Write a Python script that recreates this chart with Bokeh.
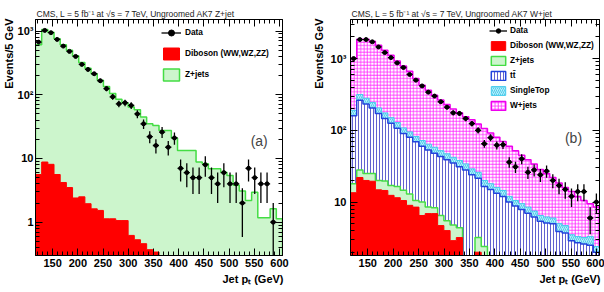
import math
from bokeh.plotting import figure
from bokeh.models import Range1d, FixedTicker, LinearAxis, LogAxis, Label, Legend, LegendItem, Title
from bokeh.layouts import row
from bokeh.embed import file_html
from bokeh.resources import INLINE

FONT = "Liberation Sans"

# ---------------- binning / ticks ----------------
bin_start = 116.0
bin_width = 12.25
n_bins = 40
x_ticks = [150, 200, 250, 300, 350, 400, 450, 500, 550, 600]
x_label = "Jet p\u209c (GeV)"
y_label = "Events/5 GeV"

# ---------------- panel (a): Z+jet ----------------
a_title = "CMS, L = 5 fb\u207b\u00b9 at \u221as = 7 TeV, Ungroomed AK7 Z+jet"
a_data = [671, 1025, 944, 740, 581, 480, 400, 300, 250, 214,
          166, 125, 93, 72, 75, 68, 50, 35, 22, 16,
          26, 15, 21, 7, 6, 5, 5, 8, 5, 4,
          6, 4, 4, 2, 7, 5, 4, 4, 1, 0]
a_diboson = [5.6, 8.8, 8.1, 5.6, 4.2, 3.5, 2.4, 2.5, 1.95, 1.62,
             1.53, 1.13, 1.13, 1.06, 1.06, 0.62, 0.53, 0.46, 0.37, 0.34,
             0, 0, 0, 0, 0, 0, 0, 0, 0, 0,
             0, 0, 0, 0, 0, 0, 0, 0, 0, 0]
a_zjets = [604, 1051, 952, 754, 606, 496, 408, 318, 258, 213,
           168, 134, 104, 84, 74, 63.4, 57.5, 44.5, 34.6, 32.7,
           27.5, 27.5, 21, 13.4, 13.4, 13.4, 8.8, 8.3, 6.9, 6.9,
           6.1, 5.4, 3.8, 3.1, 2.2, 2.96, 1.17, 1.17, 1.62, 1.13]
a_yticks = [1, 10, 100, 1000]
a_ylabels = {1: "1", 10: "10", 100: "10\u00b2", 1000: "10\u00b3"}

# ---------------- panel (b): W+jet ----------------
b_title = "CMS, L = 5 fb\u207b\u00b9 at \u221as = 7 TeV, Ungroomed AK7 W+jet"
b_data = [1000, 1840, 1840, 1710, 1450, 1210, 1030, 870, 750, 600,
          500, 415, 340, 300, 250, 210, 175, 172, 146, 124,
          100, 65, 79, 62, 63, 36, 31, 40, 26, 28,
          24, 27, 20, 17, 15, 12, 14, 14, 6, 10]
b_diboson = [13.5, 22, 20, 19.5, 14.8, 14.5, 12.4, 11.5, 10.5, 9,
             8.5, 6.5, 6.9, 6.9, 4.7, 4.0, 2.9, 3.2, 0, 0,
             2.0, 0, 0, 0, 0, 0, 0, 0, 0, 0,
             0, 0, 0, 0, 0, 0, 0, 0, 0, 0]
b_zjets = [4.5, 6, 5, 5.5, 5.2, 5.1, 4.6, 5, 4.1, 4,
           2, 3.5, 1.6, 1.4, 1.8, 1.5, 1.9, 1.2, 0, 0,
           1.2, 2.4, 0, 0, 0, 0, 0, 0, 0, 0,
           0, 0, 0, 0, 0, 0, 0, 0, 0, 0]
b_ttbar = [142, 234, 207, 180, 152, 126, 108, 90.5, 75.4, 67,
           58.5, 50, 44.5, 39.7, 36.5, 33.5, 30.2, 26.6, 28, 24,
           18.3, 14.1, 15, 13.3, 12, 10, 8.8, 7.9, 7, 6.2,
           5.4, 5.1, 5, 3.9, 3.7, 2.9, 2.7, 2.6, 2.5, 2.0]
b_singletop = [30, 53, 48, 40, 33, 29, 25, 21, 18, 15,
               13, 12, 11, 10, 9, 8, 7, 7, 6, 5,
               4.5, 3.5, 3, 2.7, 2.5, 2, 1.7, 1.6, 1.5, 1.3,
               1.1, 1.1, 1, 1.1, 1, 0.6, 0.6, 0.6, 0.8, 0.4]
b_wjets = [820, 1545, 1580, 1495, 1330, 1131, 962, 799, 681, 570,
           444, 352, 297, 250, 213, 181, 156, 137, 121, 111,
           96, 86, 74, 64, 55.5, 48, 41.5, 35.5, 30.5, 26.5,
           22, 18.8, 16, 13.5, 11.3, 10.5, 8.7, 7.3, 6.2, 6.1]
b_yticks = [10, 100, 1000]
b_ylabels = {10: "10", 100: "10\u00b2", 1000: "10\u00b3"}

edges = [bin_start + bin_width * i for i in range(n_bins + 1)]
FLOOR = 1e-4


def cumulate(*series):
    return [sum(vals) for vals in zip(*series)]


def step_xy(vals):
    xs, ys = [edges[0]], [FLOOR]
    for i, v in enumerate(vals):
        v = v if v > 0 else FLOOR
        xs += [edges[i], edges[i + 1]]
        ys += [v, v]
    xs.append(edges[-1])
    ys.append(FLOOR)
    return xs, ys


def hist(p, vals, fill, line, lw=1.5, **hatch):
    xs, ys = step_xy(vals)
    return p.patch(xs, ys, fill_color=fill, line_color=line, line_width=lw, **hatch)


def data_points(p, vals):
    cx, cy, x0, x1, lo, hi = [], [], [], [], [], []
    for i, n in enumerate(vals):
        if n <= 0:
            continue
        c = 0.5 * (edges[i] + edges[i + 1])
        e = math.sqrt(n)
        cx.append(c)
        cy.append(n)
        x0.append(edges[i])
        x1.append(edges[i + 1])
        lo.append(max(n - e, FLOOR))
        hi.append(n + e)
    p.segment(x0=cx, x1=cx, y0=lo, y1=hi, line_color="black", line_width=1.3)
    hs = p.segment(x0=x0, x1=x1, y0=cy, y1=cy, line_color="black", line_width=1.3)
    sc = p.scatter(cx, cy, size=4, marker="circle", fill_color="black", line_color="black")
    return [hs, sc]


def style_axis(ax, show_labels, standoff=3):
    ax.axis_line_color = "black"
    ax.axis_line_width = 1
    ax.major_tick_in = 7
    ax.major_tick_out = 0
    ax.minor_tick_in = 4
    ax.minor_tick_out = 0
    ax.major_tick_line_color = "black"
    ax.minor_tick_line_color = "black"
    ax.major_label_text_font = FONT
    ax.major_label_text_font_style = "bold"
    ax.major_label_text_color = "black"
    if show_labels:
        ax.major_label_text_font_size = "11px"
        ax.major_label_standoff = standoff
    else:
        ax.major_label_text_font_size = "1px"
        ax.major_label_text_alpha = 0
        ax.major_label_standoff = 0


def make_fig(title, yticks, ylabels, ylo, yhi, left, right, ystand, ytitle_standoff):
    p = figure(width=302, height=292, x_range=Range1d(edges[0], edges[-1]),
               y_range=Range1d(ylo, yhi), y_axis_type="log",
               output_backend="svg", toolbar_location=None,
               min_border_left=left, min_border_right=right,
               min_border_top=19, min_border_bottom=37)
    p.xgrid.visible = False
    p.ygrid.visible = False
    p.outline_line_color = "black"
    p.outline_line_width = 1
    p.background_fill_color = "white"
    p.border_fill_color = "white"

    x_minor = list(range(120, 606, 10))
    y_minor = [m * 10.0 ** e for e in range(-1, 4) for m in range(2, 10)
               if ylo <= m * 10.0 ** e <= yhi]

    p.xaxis[0].ticker = FixedTicker(ticks=x_ticks, minor_ticks=x_minor)
    style_axis(p.xaxis[0], True, 3)
    p.yaxis[0].ticker = FixedTicker(ticks=yticks, minor_ticks=y_minor)
    style_axis(p.yaxis[0], True, ystand)
    p.yaxis[0].major_label_overrides = dict(ylabels)

    top = LinearAxis(ticker=FixedTicker(ticks=x_ticks, minor_ticks=x_minor))
    style_axis(top, False)
    p.add_layout(top, "above")
    rt = LogAxis(ticker=FixedTicker(ticks=yticks, minor_ticks=y_minor))
    style_axis(rt, False)
    p.add_layout(rt, "right")

    p.add_layout(Title(text=title, align="left", text_font=FONT, text_font_size="8.5px",
                       text_font_style="normal", text_color="#222222", standoff=1,
                       offset=1), "above")
    p.add_layout(Title(text=y_label, align="right", text_font=FONT, text_font_size="11px",
                       text_font_style="bold", text_color="black",
                       standoff=ytitle_standoff, offset=-1), "left")
    p.add_layout(Title(text=x_label, align="right", text_font=FONT, text_font_size="11px",
                       text_font_style="bold", text_color="black", standoff=3,
                       offset=-1), "below")
    return p


def make_legend(items, loc, gw, gh, spacing, standoff):
    return Legend(items=items, location=loc, padding=0, margin=0, spacing=spacing,
                  glyph_width=gw, glyph_height=gh, label_height=gh, label_standoff=standoff,
                  label_text_font=FONT, label_text_font_style="bold",
                  label_text_font_size="8.3px", label_text_color="black",
                  background_fill_alpha=0, border_line_alpha=0)


# ---------------- figure (a) ----------------
pa = make_fig(a_title, a_yticks, a_ylabels, 0.3, 1520, 32, 20, 2, 0)
za = hist(pa, cumulate(a_diboson, a_zjets), "#ccf5cc", "#44dd44")
da = hist(pa, a_diboson, "#ff0000", "#ff0000", lw=1)
dpa = data_points(pa, a_data)
pa.add_layout(Label(x=223.7, y=115, x_units="screen", y_units="screen", text="(a)",
                    text_font=FONT, text_font_size="14px", text_align="center",
                    text_baseline="middle"))
pa.add_layout(make_legend([
    LegendItem(label="Data", renderers=dpa),
    LegendItem(label="Diboson (WW,WZ,ZZ)", renderers=[da]),
    LegendItem(label="Z+jets", renderers=[za]),
], (126, 173.5), 20, 15, 6, 4))

# ---------------- figure (b) ----------------
pb = make_fig(b_title, b_yticks, b_ylabels, 1.8, 3500, 48, 5, 4, 6)
wb = hist(pb, cumulate(b_diboson, b_zjets, b_ttbar, b_singletop, b_wjets), "white", "#ee00ee",
          hatch_pattern="+", hatch_color="#ff22ff", hatch_scale=3.3, hatch_weight=0.8)
sb = hist(pb, cumulate(b_diboson, b_zjets, b_ttbar, b_singletop), "#b0f0ff", "#44ccee", lw=1,
          hatch_pattern="/", hatch_color="#40c0e0", hatch_scale=4, hatch_weight=0.8)
tb = hist(pb, cumulate(b_diboson, b_zjets, b_ttbar), "white", "#2244dd",
          hatch_pattern="|", hatch_color="#3a3ac4", hatch_scale=3, hatch_weight=0.8)
zb = hist(pb, cumulate(b_diboson, b_zjets), "#ccf5cc", "#44dd44")
db = hist(pb, b_diboson, "#ff0000", "#ff0000", lw=1)
dpb = data_points(pb, b_data)
pb.add_layout(Label(x=223, y=118, x_units="screen", y_units="screen", text="(b)",
                    text_font=FONT, text_font_size="14px", text_align="center",
                    text_baseline="middle"))
pb.add_layout(make_legend([
    LegendItem(label="Data", renderers=dpb),
    LegendItem(label="Diboson (WW,WZ,ZZ)", renderers=[db]),
    LegendItem(label="Z+jets", renderers=[zb]),
    LegendItem(label="tt\u0304", renderers=[tb]),
    LegendItem(label="SingleTop", renderers=[sb]),
    LegendItem(label="W+jets", renderers=[wb]),
], (139, 144.5), 18, 11, 4, 3))

layout = row(pa, pb)
open("out.html", "w").write(file_html(layout, INLINE))
